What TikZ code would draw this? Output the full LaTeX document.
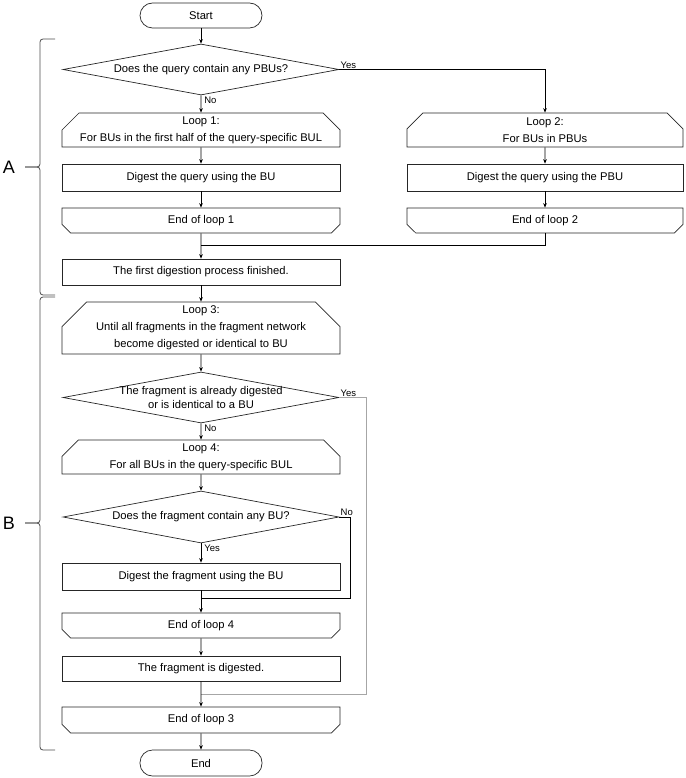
\documentclass[tikz,border=0pt]{standalone}
\usepackage{fontspec}
\setmainfont{Liberation Sans}
\usetikzlibrary{shapes.geometric,shapes.misc,arrows.meta}

\begin{document}
\begin{tikzpicture}[
            x=1pt, y=-1pt,
            line width=0.7pt,
            >={Stealth[length=4.5pt,width=3.6pt]},
            every node/.style={font=\fontsize{11.2}{17}\selectfont, text=black},
            terminal/.style={rectangle, rounded corners=12.5pt, draw=black!85, minimum width=122pt, minimum height=25pt, inner sep=0pt},
            process/.style={rectangle, draw=black!85, minimum width=278pt, minimum height=27pt, inner sep=0pt},
            loopstart/.style={chamfered rectangle, chamfered rectangle corners={north west,north east}, chamfered rectangle xsep=14pt, draw=black!85, minimum width=278pt, minimum height=34pt, inner sep=0pt, align=center},
            loopend/.style={chamfered rectangle, chamfered rectangle corners={south west,south east}, chamfered rectangle xsep=11pt, draw=black!85, minimum width=278pt, minimum height=25pt, inner sep=0pt},
            decision/.style={diamond, aspect=5.4, draw=black!85, minimum width=276pt, minimum height=51pt, inner sep=0pt, align=center},
            answer/.style={font=\fontsize{9.5}{11}\selectfont, inner sep=1pt},
            skipline/.style={draw=black!35},
            bracket/.style={draw=black!70, line width=0.8pt, rounded corners=3pt}
        ]
        \useasboundingbox (0,0) rectangle (685,778);

        % Part A - first digestion
        \node[terminal] (start) at (201,15.5) {Start};
        \node[decision] (d1) at (201,69.5) {Does the query contain any PBUs?};
        \node[loopstart] (loop1) at (201,130) {Loop 1:\\For BUs in the first half of the query-specific BUL};
        \node[process] (dig1) at (201,177.5) {Digest the query using the BU};
        \node[loopend] (end1) at (201,220.5) {End of loop 1};
        \node[loopstart, minimum width=276pt] (loop2) at (545,130) {Loop 2:\\For BUs in PBUs};
        \node[process, minimum width=276pt] (dig2) at (545,177.5) {Digest the query using the PBU};
        \node[loopend, minimum width=276pt] (end2) at (545,220.5) {End of loop 2};
        \coordinate (j1) at (201,245);
        \node[process, minimum height=26pt] (fin) at (201,272) {The first digestion process finished.};

        % Part B - fragment network
        \node[loopstart, minimum height=52pt, chamfered rectangle xsep=21pt] (loop3) at (201,328) {Loop 3:\\Until all fragments in the fragment network\\become digested or identical to BU};
        \node[decision, inner ysep=-4pt] (d2) at (201,397.5) {The fragment is already digested\\[-3pt]or is identical to a BU};
        \node[loopstart, minimum height=32pt, chamfered rectangle xsep=13pt] (loop4) at (201,457) {Loop 4:\\For all BUs in the query-specific BUL};
        \node[decision, minimum height=52pt] (d3) at (201,517) {Does the fragment contain any BU?};
        \node[process] (dig3) at (201,576.5) {Digest the fragment using the BU};
        \coordinate (j2) at (201,598);
        \node[loopend] (end4) at (201,625.5) {End of loop 4};
        \node[process, minimum height=25pt] (done) at (201,668.5) {The fragment is digested.};
        \coordinate (j3) at (201,694);
        \node[loopend, minimum height=26pt] (end3) at (201,720) {End of loop 3};
        \node[terminal, minimum height=26pt] (stop) at (201,763) {End};

        \draw[->] (start) -- (d1);
        \draw[->] (d1) -- node[answer, anchor=north west, pos=0, xshift=2pt] {No} (loop1);
        \draw[->] (d1.east) -| node[answer, anchor=south west, pos=0] {Yes} (loop2.north);
        \draw[->] (loop1) -- (dig1);
        \draw[->] (dig1) -- (end1);
        \draw[->] (loop2) -- (dig2);
        \draw[->] (dig2) -- (end2);
        \draw (end2) |- (j1);
        \draw[->] (end1) -- (fin);
        \draw[->] (fin) -- (loop3);
        \draw[->] (loop3) -- (d2);
        \draw[->] (d2) -- node[answer, anchor=north west, pos=0, xshift=2pt] {No} (loop4);
        \draw[skipline] (d2.east) -- node[answer, anchor=south west, pos=0] {Yes} ++(27,0) |- (j3);
        \draw[->] (loop4) -- (d3);
        \draw[->] (d3) -- node[answer, anchor=north west, pos=0, xshift=2pt] {Yes} (dig3);
        \draw (d3.east) -- node[answer, anchor=south west, pos=0] {No} ++(11,0) |- (j2);
        \draw[->] (dig3) -- (end4);
        \draw[->] (end4) -- (done);
        \draw[->] (done) -- (end3);
        \draw[->] (end3) -- (stop);

        % braces
        \draw[bracket] (55,39) -- (40,39) -- (40,167) -- (25,167);
        \draw[bracket] (25,167) -- (40,167) -- (40,295) -- (55,295);
        \node[font=\fontsize{18}{20}\selectfont] (lblA) at (9,167) {A};
        \draw[bracket] (55,297) -- (40,297) -- (40,523) -- (25,523);
        \draw[bracket] (25,523) -- (40,523) -- (40,750) -- (55,750);
        \node[font=\fontsize{18}{20}\selectfont] (lblB) at (9,523) {B};
        \end{tikzpicture}
\end{document}
